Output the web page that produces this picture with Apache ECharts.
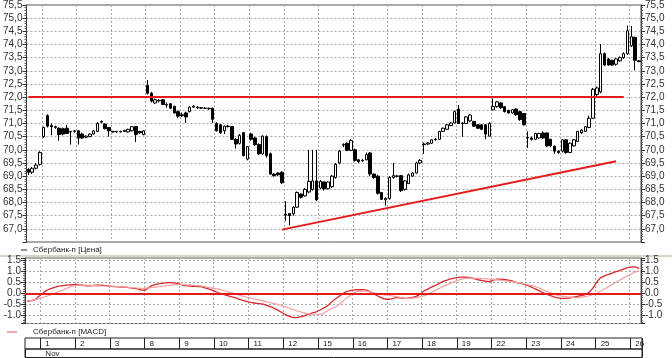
<!DOCTYPE html>
<html><head><meta charset="utf-8">
<script src="https://cdn.jsdelivr.net/npm/echarts@6/dist/echarts.min.js"></script>
<style>html,body{margin:0;padding:0;background:#fff}#c{width:672px;height:358px}</style>
</head><body><div id="c"></div>
<script>
// ---- data ----
const dayLabels = ['31','1','2','3','8','9','10','11','12','15','16','17','18','19','22','23','24','25','26'];
const candlesPerDay = [4,9,9,9,9,9,9,9,9,9,9,9,9,9,9,9,9,9,3];
const monthLabel = 'Nov';
const priceName = 'Сбербанк-п [Цена]';
const macdName = 'Сбербанк-п [MACD]';
// [open, close, low, high]
const ohlc = [
 // 31
 [69.25,69.15,69.05,69.30],[69.15,69.30,69.08,69.35],[69.30,69.42,69.25,69.50],[69.45,69.90,69.40,69.95],
 // 1
 [70.50,70.85,70.45,70.88],[71.30,70.90,70.85,71.35],[70.92,70.88,70.55,71.00],[70.85,70.88,70.80,70.92],[70.82,70.58,70.35,70.85],
 [70.80,70.60,70.55,70.85],[70.82,70.62,70.60,70.95],[70.68,70.70,70.20,70.72],[70.70,70.72,70.65,70.75],
 // 2
 [70.72,70.45,70.20,70.75],[70.60,70.45,70.42,70.65],[70.48,70.52,70.45,70.55],[70.50,70.60,70.48,70.62],[70.60,70.72,70.58,70.75],
 [70.70,71.00,70.68,71.05],[71.05,71.08,71.00,71.12],[70.98,70.80,70.78,71.00],[70.85,70.72,70.50,70.87],
 // 3
 [70.70,70.68,70.65,70.72],[70.68,70.70,70.65,70.72],[70.68,70.70,70.66,70.72],[70.70,70.74,70.68,70.76],[70.68,70.78,70.66,70.80],
 [70.72,70.88,70.70,70.90],[70.88,70.58,70.30,70.90],[70.70,70.65,70.60,70.72],[70.58,70.72,70.55,70.74],
 // 8
 [72.45,72.15,72.10,72.65],[72.15,71.85,71.80,72.20],[71.78,71.90,71.75,71.95],[71.86,71.88,71.80,71.92],[71.90,71.72,71.70,71.93],
 [71.70,71.72,71.60,71.80],[71.75,71.58,71.55,71.78],[71.65,71.40,71.38,71.68],[71.45,71.28,71.20,71.50],
 // 9
 [71.33,71.30,71.25,71.42],[71.40,71.25,71.02,71.45],[71.45,71.62,71.42,71.65],[71.62,71.66,71.60,71.70],[71.62,71.60,71.55,71.66],
 [71.58,71.60,71.55,71.62],[71.58,71.58,71.55,71.62],[71.56,71.58,71.52,71.60],[71.58,71.16,71.02,71.60],
 // 10
 [71.00,70.72,70.70,71.05],[70.95,70.65,70.60,70.98],[70.72,70.90,70.60,70.92],[70.90,70.88,70.85,70.95],[70.88,70.40,70.38,70.90],
 [70.40,70.22,70.05,70.45],[70.25,70.55,70.20,70.60],[70.65,69.78,69.75,70.68],[69.65,70.12,69.60,70.15],
 // 11
 [70.60,70.40,70.35,70.65],[70.45,70.20,70.15,70.50],[70.20,69.85,69.80,70.25],[69.85,70.52,69.80,70.55],[70.50,69.78,69.70,70.55],
 [69.85,69.08,69.05,69.90],[69.08,69.02,68.98,69.12],[69.12,69.05,69.00,69.15],[69.15,68.75,68.70,69.18],
 // 12
 [67.55,67.52,67.30,68.05],[67.58,67.50,67.13,67.60],[67.57,67.82,67.50,67.85],[67.82,68.38,67.80,68.42],[68.32,68.20,68.15,68.35],
 [68.25,68.50,68.22,68.55],[68.40,68.80,68.35,70.00],[68.50,68.82,68.45,70.00],[68.82,68.10,68.05,70.00],
 // 15
 [68.55,68.80,68.50,68.85],[68.78,68.52,68.45,68.80],[68.52,68.78,68.50,68.80],[68.60,69.00,68.55,69.05],[68.95,69.45,68.90,69.50],
 [69.50,69.95,69.45,70.00],[70.18,70.20,70.10,70.25],[70.25,69.98,69.95,70.28],[69.98,70.35,69.95,70.40],
 // 16
 [70.00,69.60,69.55,70.05],[69.62,69.55,69.50,69.65],[69.58,69.60,69.55,69.65],[69.62,69.82,69.60,69.90],[69.88,69.08,69.00,69.92],
 [69.08,68.95,68.90,69.10],[69.00,68.35,68.30,69.05],[68.38,68.12,68.10,68.40],[68.10,68.15,67.88,68.20],
 // 17
 [68.15,68.95,68.10,69.00],[68.95,69.02,68.90,69.50],[69.00,69.00,68.95,69.05],[69.02,68.45,68.40,69.05],[68.50,68.82,68.45,68.85],
 [68.72,69.05,68.70,69.10],[69.00,69.12,68.98,69.15],[69.12,69.50,69.10,69.55],[69.50,69.60,69.45,69.65],
 // 18
 [70.20,70.22,69.85,70.28],[70.22,70.26,70.18,70.30],[70.25,70.38,70.22,70.40],[70.38,70.40,70.35,70.45],[70.40,70.70,70.38,70.72],
 [70.70,70.82,70.68,70.85],[70.78,70.95,70.75,70.98],[70.92,71.02,70.90,71.05],[71.02,71.45,71.00,71.50],
 // 19
 [71.55,71.00,70.98,71.70],[71.00,71.02,70.50,71.05],[71.00,71.25,70.98,71.28],[71.10,71.32,71.05,71.35],[71.08,70.90,70.88,71.10],
 [70.95,70.82,70.80,70.98],[70.95,70.78,70.75,70.98],[70.95,70.60,70.40,70.98],[70.52,71.00,70.50,71.05],
 // 22
 [71.52,71.64,71.50,71.95],[71.64,71.82,71.60,71.85],[71.78,71.60,71.55,71.80],[71.64,71.45,71.42,71.66],[71.50,71.40,71.38,71.52],
 [71.40,71.52,71.38,71.55],[71.55,71.33,71.30,71.58],[71.45,71.15,71.10,71.48],[71.38,70.95,70.92,71.40],
 // 23
 [70.45,70.47,70.07,70.70],[70.45,70.40,70.35,70.50],[70.40,70.62,70.38,70.65],[70.45,70.62,70.42,70.65],[70.64,70.45,70.42,70.70],
 [70.64,70.15,70.10,70.66],[70.40,70.15,70.10,70.42],[70.14,69.95,69.85,70.16],[69.95,69.90,69.85,69.98],
 // 24
 [69.95,70.38,69.90,70.40],[70.38,69.90,69.85,70.40],[69.90,70.25,69.88,70.28],[70.15,70.38,70.12,70.40],[70.32,70.70,70.30,70.72],
 [70.65,70.75,70.60,70.78],[70.70,70.88,70.68,70.90],[70.85,71.20,70.82,71.30],[71.20,72.30,71.18,72.35],
 // 25
 [72.10,72.35,72.05,72.40],[72.20,73.65,72.15,74.02],[73.65,73.22,73.18,73.70],[73.45,73.22,73.20,73.48],[73.40,73.22,73.20,73.42],
 [73.25,73.45,73.20,73.48],[73.38,73.50,73.35,73.55],[73.50,73.65,73.45,73.70],[73.65,74.52,73.60,74.72],
 // 26
 [73.95,74.30,73.90,74.70],[74.27,73.40,73.02,74.30],[73.38,73.35,73.33,73.40]
];
const macd = [
 -0.35,-0.34,-0.30,-0.15,-0.02,0.12,0.20,0.26,0.31,0.34,
 0.36,0.38,0.39,0.40,0.38,0.35,0.34,0.35,0.37,0.37,
 0.36,0.33,0.31,0.30,0.29,0.28,0.27,0.25,0.22,0.19,
 0.13,0.18,0.30,0.38,0.42,0.45,0.47,0.48,0.47,0.45,
 0.40,0.35,0.33,0.32,0.31,0.30,0.26,0.21,0.15,0.08,
 0.01,-0.05,-0.10,-0.15,-0.20,-0.26,-0.32,-0.37,-0.41,-0.44,
 -0.46,-0.48,-0.53,-0.59,-0.66,-0.75,-0.85,-0.95,-1.04,-1.09,
 -1.10,-1.07,-1.02,-0.96,-0.90,-0.85,-0.77,-0.68,-0.58,-0.42,
 -0.27,-0.15,-0.02,0.08,0.12,0.15,0.16,0.16,0.15,0.08,
 -0.02,-0.11,-0.20,-0.26,-0.27,-0.24,-0.20,-0.21,-0.23,-0.22,
 -0.19,-0.15,-0.05,0.09,0.18,0.27,0.35,0.44,0.53,0.59,
 0.65,0.69,0.72,0.73,0.73,0.71,0.67,0.62,0.59,0.55,
 0.53,0.59,0.64,0.64,0.62,0.60,0.56,0.50,0.46,0.41,
 0.36,0.28,0.20,0.12,0.03,-0.04,-0.11,-0.17,-0.21,-0.23,
 -0.23,-0.21,-0.18,-0.14,-0.10,-0.06,0.05,0.23,0.50,0.70,
 0.79,0.85,0.91,0.98,1.03,1.10,1.16,1.19,1.20,1.12
];
const signal = [
 -0.35,-0.33,-0.30,-0.25,-0.20,-0.14,-0.08,-0.01,0.05,0.12,
 0.20,0.28,0.33,0.36,0.37,0.37,0.36,0.35,0.34,0.33,
 0.33,0.32,0.32,0.31,0.30,0.29,0.28,0.26,0.25,0.23,
 0.22,0.23,0.25,0.27,0.29,0.31,0.34,0.36,0.38,0.39,
 0.40,0.39,0.38,0.37,0.35,0.34,0.31,0.27,0.24,0.21,
 0.18,0.13,0.08,0.03,-0.02,-0.07,-0.12,-0.17,-0.21,-0.26,
 -0.29,-0.33,-0.38,-0.42,-0.46,-0.50,-0.55,-0.61,-0.67,-0.73,
 -0.79,-0.84,-0.89,-0.93,-0.95,-0.95,-0.95,-0.91,-0.80,-0.70,
 -0.63,-0.52,-0.37,-0.22,-0.10,0.03,0.08,0.10,0.10,0.07,
 0.03,-0.01,-0.04,-0.07,-0.09,-0.12,-0.15,-0.18,-0.22,-0.23,
 -0.22,-0.20,-0.16,-0.12,-0.06,0.03,0.12,0.21,0.30,0.38,
 0.45,0.53,0.59,0.64,0.68,0.69,0.69,0.68,0.67,0.66,
 0.64,0.63,0.61,0.59,0.57,0.55,0.53,0.50,0.47,0.43,
 0.39,0.35,0.31,0.24,0.16,0.09,0.02,-0.05,-0.10,-0.13,
 -0.15,-0.17,-0.19,-0.20,-0.18,-0.15,-0.11,-0.06,0.00,0.09,
 0.19,0.30,0.40,0.50,0.60,0.70,0.79,0.88,0.97,1.03
];
const levelLine = {price: 72.0, fromIdx: 0, toIdx: 155};
const trendLine = {fromIdx: 66, fromPrice: 66.97, toIdx: 153, toPrice: 69.57};
const lastPrice = 73.35;

// ---- build ----
const categories = [];
const dayStart = new Map();
dayLabels.forEach((d, di) => {
  if (di > 0) dayStart.set(categories.length, d);
  for (let k = 0; k < candlesPerDay[di]; k++) categories.push(d + ':' + k);
});
const firstDayIdx = [...dayStart.keys()][0];
const isDayStart = (i) => dayStart.has(i);

const RED = '#e31b1b';
const GRID_LINE = {show: true, interval: isDayStart, lineStyle: {color: '#a8a8a8', type: [2, 2], width: 1}};
const HGRID = {show: true, lineStyle: {color: '#a8a8a8', type: [2, 2], width: 1}};
const FONT = 'Liberation Sans, Arial, sans-serif';
const axisText = {fontSize: 10, color: '#333', fontFamily: FONT};
const onHalf = v => Math.abs(v * 2 - Math.round(v * 2)) < 1e-6;

function priceAxis(pos, split) {
  return {
    gridIndex: 0, type: 'value', position: pos, min: 66.5, max: 75.5, interval: 0.5,
    axisLine: {show: true, lineStyle: {color: '#333'}},
    axisTick: {show: true, length: 4, lineStyle: {color: '#333'}},
    minorTick: {show: true, splitNumber: 5, length: 2, lineStyle: {color: '#666'}},
    axisLabel: Object.assign({margin: 4, formatter: v => Math.abs(v - 66.5) < 1e-6 ? '' : v.toFixed(1).replace('.', ',')}, axisText),
    splitLine: split ? HGRID : {show: false}
  };
}
function macdAxis(pos, split) {
  return {
    gridIndex: 1, type: 'value', position: pos, min: -1.37, max: 1.6, splitNumber: 6,
    axisLine: {show: true, lineStyle: {color: '#333'}},
    axisTick: {show: true, length: 4, lineStyle: {color: '#333'}},
    minorTick: {show: true, splitNumber: 5, length: 2, lineStyle: {color: '#666'}},
    axisLabel: Object.assign({margin: 4, formatter: v => onHalf(v) ? v.toFixed(1) : ''}, axisText),
    splitLine: split ? HGRID : {show: false}
  };
}

const chart = echarts.init(document.getElementById('c'), null, {renderer: 'canvas'});
chart.setOption({
  animation: false,
  backgroundColor: '#fff',
  grid: [
    {left: 25, right: 31, top: 4, height: 238, show: true, borderColor: '#555', borderWidth: 1},
    {left: 25, right: 31, top: 258, height: 65.5, show: true, borderColor: '#666', borderWidth: 1},
    {left: 25, right: 30, top: 338, height: 11, show: true, borderColor: '#222', borderWidth: 1},
    {left: 25, right: 30, top: 349, height: 8.5, show: true, borderColor: '#222', borderWidth: 1}
  ],
  legend: [
    {data: [{name: priceName, icon: 'rect', itemStyle: {color: '#222', borderWidth: 0}}], left: 21, top: 246, padding: 0,
     itemWidth: 6, itemHeight: 1, selectedMode: false,
     textStyle: {fontSize: 8, color: '#222', fontFamily: FONT, padding: [0, 0, 0, 1]}},
    {data: [{name: macdName, icon: 'rect', itemStyle: {color: '#e05050', borderWidth: 0}}], left: 7, top: 328, padding: 0,
     itemWidth: 10, itemHeight: 1, selectedMode: false,
     textStyle: {fontSize: 8, color: '#222', fontFamily: FONT, padding: [0, 0, 0, 11]}}
  ],
  graphic: [
    {type: 'rect', shape: {x: 0, y: 255, width: 672, height: 2}, style: {fill: '#d8d4cc'}, silent: true}
  ],
  xAxis: [
    {gridIndex: 0, type: 'category', data: categories, boundaryGap: true, axisLine: {show: false}, axisTick: {show: false}, axisLabel: {show: false}, splitLine: GRID_LINE},
    {gridIndex: 1, type: 'category', data: categories, boundaryGap: true, axisLine: {show: false}, axisTick: {show: false}, axisLabel: {show: false}, splitLine: GRID_LINE},
    {gridIndex: 2, type: 'category', data: categories, boundaryGap: true, position: 'top', axisLine: {show: false}, axisTick: {show: false},
     axisLabel: {show: true, inside: true, interval: isDayStart, formatter: (v) => v.split(':')[0], align: 'left', verticalAlign: 'middle', margin: 5.5, padding: [0, 0, 0, 3], fontSize: 8, color: '#222', fontFamily: FONT},
     splitLine: {show: true, interval: isDayStart, lineStyle: {color: '#222', width: 1}}},
    {gridIndex: 3, type: 'category', data: categories, boundaryGap: true, position: 'top', axisLine: {show: false}, axisTick: {show: false},
     axisLabel: {show: true, inside: true, interval: (i) => i === firstDayIdx, formatter: () => monthLabel, align: 'left', verticalAlign: 'middle', margin: 4.5, padding: [0, 0, 0, 3], fontSize: 8, color: '#222', fontFamily: FONT},
     splitLine: {show: true, interval: (i) => i === firstDayIdx, lineStyle: {color: '#222', width: 1}}}
  ],
  yAxis: [
    priceAxis('left', true), priceAxis('right', false),
    macdAxis('left', true), macdAxis('right', false),
    {gridIndex: 2, type: 'value', show: false},
    {gridIndex: 3, type: 'value', show: false}
  ],
  series: [
    {
      name: priceName, type: 'candlestick', xAxisIndex: 0, yAxisIndex: 0, data: ohlc, barWidth: 3,
      itemStyle: {color: '#fff', color0: '#000', borderColor: '#000', borderColor0: '#000', borderWidth: 1},
      markLine: {
        silent: true, symbol: 'none', animation: false,
        data: [
          [{coord: [levelLine.fromIdx, levelLine.price], lineStyle: {color: RED, width: 2, type: 'solid'}, label: {show: false}},
           {coord: [levelLine.toIdx, levelLine.price]}],
          [{coord: [trendLine.fromIdx, trendLine.fromPrice], lineStyle: {color: RED, width: 2, type: 'solid'}, label: {show: false}},
           {coord: [trendLine.toIdx, trendLine.toPrice]}],
          {yAxis: lastPrice, lineStyle: {opacity: 0, width: 0},
           label: {show: true, position: 'end', distance: 2, formatter: lastPrice.toFixed(2).replace('.', ','),
                   backgroundColor: '#fff', borderColor: '#333', borderWidth: 1, padding: [1, 1, 0, 2],
                   fontSize: 10, color: '#333', fontFamily: FONT}}
        ]
      }
    },
    {
      name: macdName, type: 'line', xAxisIndex: 1, yAxisIndex: 2, data: macd, symbol: 'none', smooth: 0.3,
      lineStyle: {color: '#d82a2a', width: 1.3},
      markLine: {silent: true, symbol: 'none', animation: false, label: {show: false},
        data: [{yAxis: 0, lineStyle: {color: RED, width: 2, type: 'solid'}}]}
    },
    {
      name: 'signal', type: 'line', xAxisIndex: 1, yAxisIndex: 2, data: signal, symbol: 'none', smooth: 0.3,
      lineStyle: {color: '#f2a0a0', width: 1.2}
    }
  ]
});
</script></body></html>
